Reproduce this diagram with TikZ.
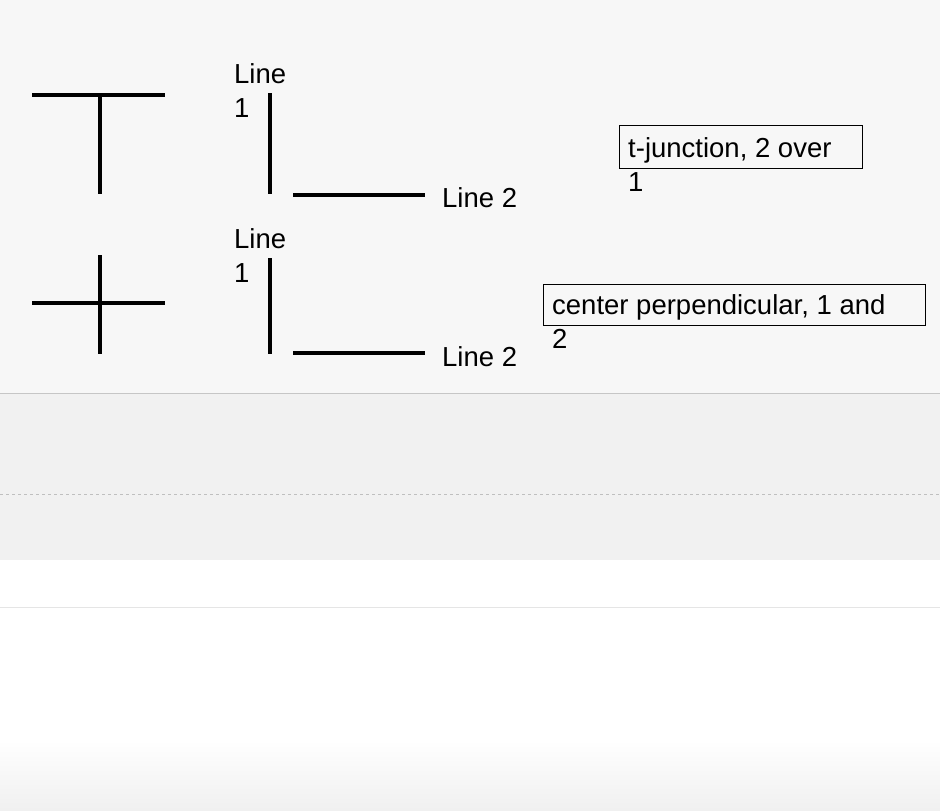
\documentclass[tikz,border=0pt]{standalone}
\usepackage{fontspec}
\setmainfont{Liberation Sans}
\begin{document}
\begin{tikzpicture}[x=1pt,y=-1pt,
  stroke/.style={line width=3.2pt,black},
  lbl/.style={font=\fontsize{27.5}{34}\selectfont,anchor=west,inner sep=0pt,align=left},
  box/.style={draw,line width=0.8pt}]
\useasboundingbox (0,0) rectangle (940,811);
\fill[gray!6] (0,0) rectangle (940,393);
\fill[gray!11] (0,393) rectangle (940,560);
\draw[gray!45,line width=1pt] (0,393) -- (940,393);
\draw[gray!50,dashed,line width=0.8pt] (0,494) -- (940,494);
\draw[gray!20,line width=1pt] (0,607) -- (940,607);
\shade[top color=white,bottom color=gray!12] (0,740) rectangle (940,811);
% row 1
\coordinate (a1) at (32,95); \coordinate (a2) at (165,95);
\coordinate (a3) at (100,95); \coordinate (a4) at (100,194);
\draw[stroke] (a1) -- (a2); \draw[stroke] (a3) -- (a4);
\node[lbl] (l1a) at (234,91) {Line\\1};
\coordinate (v1) at (270,93); \coordinate (v2) at (270,194);
\draw[stroke] (v1) -- (v2);
\coordinate (h1) at (293,195); \coordinate (h2) at (425,195);
\draw[stroke] (h1) -- (h2);
\node[lbl] (l2a) at (442,198) {Line 2};
\draw[box] (619,125) rectangle (862,168);
\node[lbl] (t1) at (628,165) {t-junction, 2 over\\1};
% row 2
\coordinate (b1) at (32,303); \coordinate (b2) at (165,303);
\coordinate (b3) at (100,255); \coordinate (b4) at (100,354);
\draw[stroke] (b1) -- (b2); \draw[stroke] (b3) -- (b4);
\node[lbl] (l1b) at (234,256) {Line\\1};
\coordinate (w1) at (270,258); \coordinate (w2) at (270,354);
\draw[stroke] (w1) -- (w2);
\coordinate (g1) at (293,353); \coordinate (g2) at (425,353);
\draw[stroke] (g1) -- (g2);
\node[lbl] (l2b) at (442,357) {Line 2};
\draw[box] (543,284) rectangle (925,325);
\node[lbl] (t2) at (552,322) {center perpendicular, 1 and\\2};
\end{tikzpicture}
\end{document}
